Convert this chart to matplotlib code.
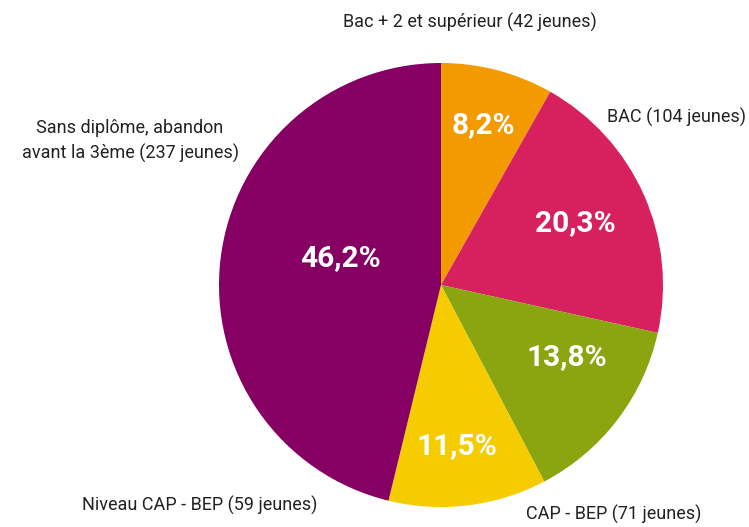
import matplotlib
matplotlib.use("Agg")
from matplotlib import pyplot as plt

plt.rcParams["font.family"] = ["Roboto", "DejaVu Sans"]

categories = [
    "Bac + 2 et supérieur",
    "BAC",
    "CAP - BEP",
    "Niveau CAP - BEP",
    "Sans diplôme, abandon\navant la 3ème",
]
counts = [42, 104, 71, 59, 237]
pct_labels = ["8,2%", "20,3%", "13,8%", "11,5%", "46,2%"]
colors = ["#F29A00", "#D7215E", "#8BA510", "#F5CC00", "#850062"]

W, H = 749, 527
fig = plt.figure(figsize=(W / 100, H / 100), dpi=100)
fig.patch.set_facecolor("white")
ax = fig.add_axes([0, 0, 1, 1])

cx, cy, r = 441, H - 285, 222
ax.pie(
    counts,
    colors=colors,
    startangle=90,
    counterclock=False,
    center=(cx, cy),
    radius=r,
    frame=True,
)
ax.set_xlim(0, W)
ax.set_ylim(0, H)
ax.set_aspect("equal")
ax.axis("off")

# percentage labels inside slices
pct_pos = [(483, 125), (575, 223), (567, 357), (457, 446), (340, 258)]
for (x, y), txt in zip(pct_pos, pct_labels):
    ax.text(x, H - y, txt, ha="center", va="center", color="white",
            fontsize=21.5, fontweight="bold")

# category labels outside
names = [f"{c} ({n} jeunes)" for c, n in zip(categories, counts)]
label_pos = [
    (470, 22, "center"),
    (746, 117, "right"),
    (614, 514, "center"),
    (200, 505, "center"),
    (130, 141, "center"),
]
for name, (x, y, ha) in zip(names, label_pos):
    ax.text(x, H - y, name, ha=ha, va="center", color="#222222",
            fontsize=13, linespacing=1.4)

fig.savefig("out.png", dpi=100, facecolor="white")
